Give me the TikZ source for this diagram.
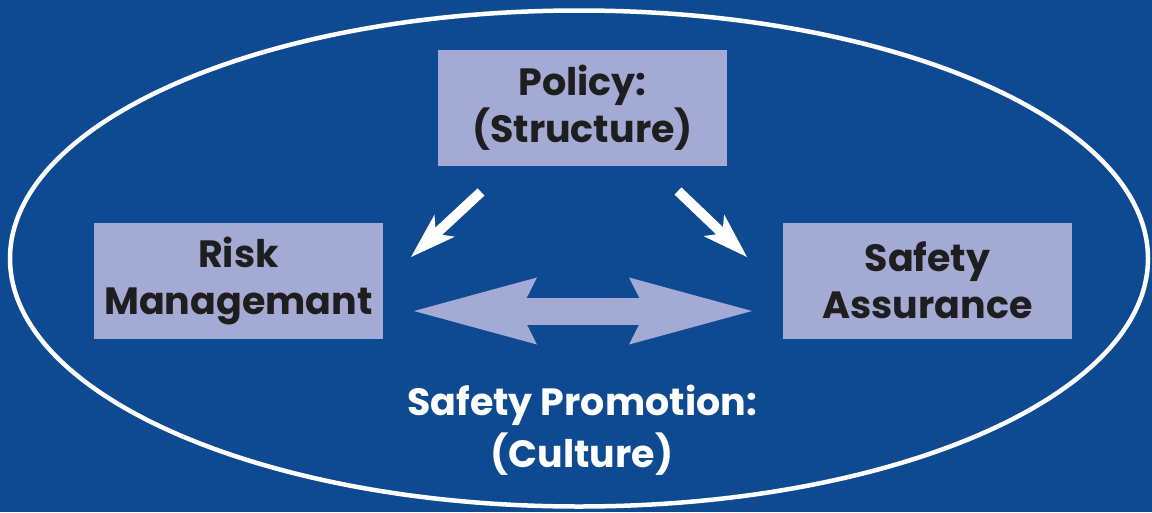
\documentclass[tikz,border=0pt]{standalone}
\usepackage{fontspec}
\setmainfont{Poppins}
\usetikzlibrary{arrows.meta}
\definecolor{bgblue}{RGB}{14,74,146}
\definecolor{boxfill}{RGB}{163,170,212}
\definecolor{ink}{RGB}{30,30,30}
\tikzset{
  blockbox/.style={fill=boxfill, draw=none, minimum width=289pt, minimum height=116pt, inner sep=0pt,
    text=ink, align=center, font=\fontsize{38}{47}\selectfont\bfseries},
  whitearrow/.style={draw=white, line width=10pt, -{Stealth[length=46pt, width=30pt, inset=12pt, line width=0pt]}},
  fatarrow/.style={draw=boxfill, line width=27pt, {Stealth[length=123pt, width=67pt, inset=17pt, line width=0pt]}-{Stealth[length=123pt, width=67pt, inset=17pt, line width=0pt]}},
  promo/.style={text=white, align=center, font=\fontsize{38}{52}\selectfont\bfseries}
}
\begin{document}
\begin{tikzpicture}[x=1pt, y=-1pt]
\fill[bgblue] (0,0) rectangle (1152,512);
\useasboundingbox (0,0) rectangle (1152,512);
\draw[white, line width=4.5pt] (579,258.5) ellipse [x radius=569, y radius=248];
\node[blockbox] (policy) at (582.5,108) {Policy:\\(Structure)};
\node[blockbox] (risk) at (238.5,281) {Risk\\Managemant};
\node[blockbox] (safety) at (927.5,280.5) {Safety\\Assurance};
\node[promo] (promotion) at (582,430) {Safety Promotion:\\(Culture)};
\coordinate (pl) at (481,192);
\coordinate (rl) at (411,257);
\coordinate (pr) at (678,191);
\coordinate (sr) at (747,257);
\coordinate (dl) at (414,311);
\coordinate (dr) at (752,311);
\draw[whitearrow] (pl) -- (rl);
\draw[whitearrow] (pr) -- (sr);
\draw[fatarrow] (dl) -- (dr);
\end{tikzpicture}
\end{document}
